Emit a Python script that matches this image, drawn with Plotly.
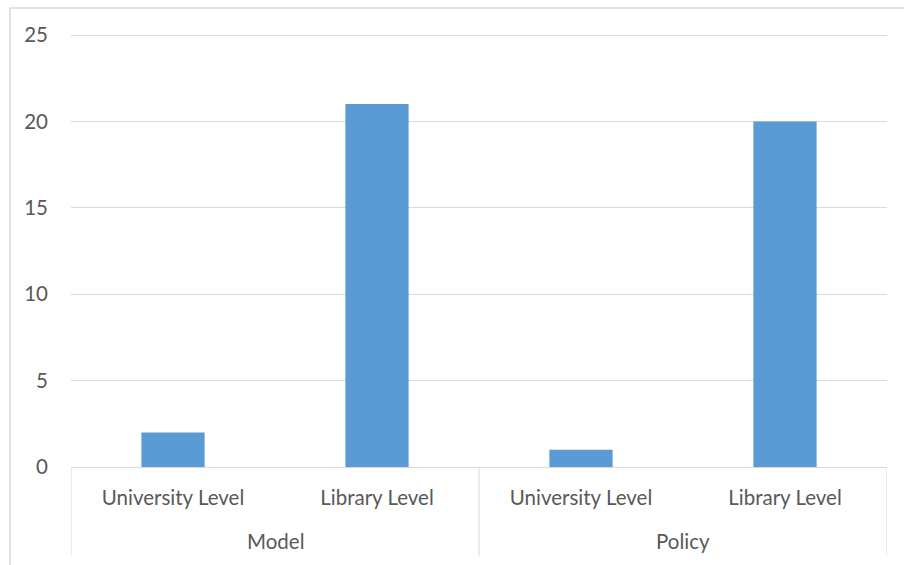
import plotly.graph_objects as go

groups = ["Model", "Model", "Policy", "Policy"]
levels = ["University Level", "Library Level", "University Level", "Library Level"]
values = [2, 21, 1, 20]
y_ticks = [0, 5, 10, 15, 20, 25]
y_max = 25

W, H = 904, 565
L, R, B = 71, 17, 98
T = 33
pw, ph = W - L - R, H - T - B
FONT = "Lato"
FS = 20.5
TXT = "#595959"
GRID = "#D9D9D9"

pos = list(range(len(values)))
# top of range chosen so that y_max sits at pixel row 35
y_top = y_max * ph / (H - B - 35)

fig = go.Figure(go.Bar(x=pos, y=values, width=0.31,
                       marker=dict(color="#5B9BD5", line_width=0)))

fig.update_layout(
    width=W, height=H,
    margin=dict(l=L, r=R, t=T, b=B, pad=0),
    paper_bgcolor="white", plot_bgcolor="white",
    font=dict(family=FONT, size=FS, color=TXT),
    showlegend=False,
)
fig.update_yaxes(range=[0, y_top], tickvals=y_ticks, showgrid=True, gridcolor=GRID,
                 gridwidth=1, zeroline=False, showline=False, ticks="",
                 ticklabelstandoff=22, tickfont=dict(size=FS), automargin=False)
fig.update_xaxes(range=[-0.5, len(values) - 0.5], tickvals=pos, ticktext=levels,
                 showgrid=False, zeroline=False, showline=True, linecolor=GRID, linewidth=1,
                 ticks="", ticklabelstandoff=12, tickfont=dict(size=FS), automargin=False)

# group labels and dividers, derived from the data
uniq = []
for g in groups:
    if g not in uniq:
        uniq.append(g)
bounds = [-0.5]
for g in uniq:
    idx = [i for i, gg in enumerate(groups) if gg == g]
    fig.add_annotation(x=sum(idx) / len(idx), xref="x", y=(H - B - 541) / ph, yref="paper",
                       text=g, showarrow=False, yanchor="middle",
                       font=dict(family=FONT, size=FS, color=TXT))
    bounds.append(max(idx) + 0.5)
for b in bounds:
    fig.add_shape(type="line", xref="x", yref="paper", x0=b, x1=b,
                  y0=0, y1=(H - B - 556) / ph, line=dict(color=GRID, width=1))

fig.add_shape(type="rect", xref="paper", yref="paper",
              x0=(10 - L) / pw, x1=(W + 5 - L) / pw,
              y0=(H - B - (H + 5)) / ph, y1=(H - B - 8) / ph,
              line=dict(color=GRID, width=1.5), fillcolor="rgba(0,0,0,0)", layer="below")

fig.write_html("out.html")
